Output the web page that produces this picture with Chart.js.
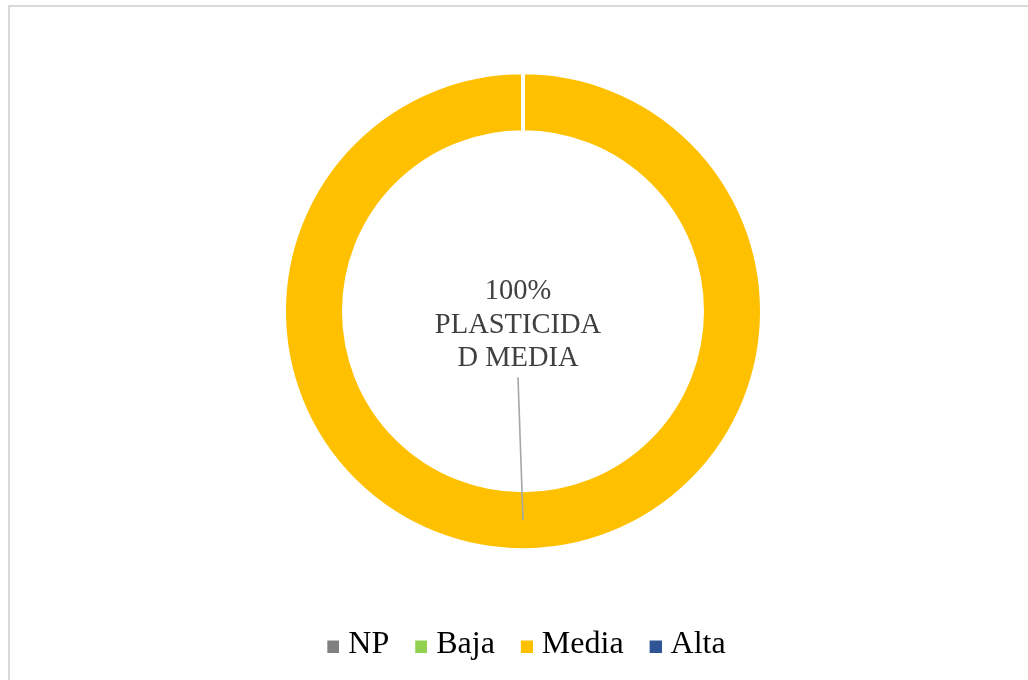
<!DOCTYPE html>
<html>
<head>
<meta charset="utf-8">
<script src="https://cdn.jsdelivr.net/npm/chart.js@4"></script>
<style>
  html, body { margin: 0; padding: 0; background: #fff; overflow: hidden; }
  #frame { position: absolute; left: 8px; top: 5px; width: 1100px; height: 760px;
           border: 2px solid #d9d9d9; box-sizing: border-box; }
  #wrap { position: absolute; left: 0; top: 0; width: 1028px; height: 680px; }
</style>
</head>
<body>
<div id="frame"></div>
<div id="wrap"><canvas id="c"></canvas></div>
<script>
// Plasticity classes and their share of samples (%)
const categories = ['NP', 'Baja', 'Media', 'Alta'];
const values = [0, 0, 100, 0];
const colors = ['#808080', '#92D050', '#FFC000', '#2F5597'];
// Wrapped category text shown in the data callout
const calloutLines = ['PLASTICIDA', 'D MEDIA'];

// Legend swatch: a 12px square sitting at the right end of a wider image,
// so the gap between swatch and text stays tight.
function makeSwatch(color) {
  const c = document.createElement('canvas');
  c.width = 26; c.height = 16;
  const g = c.getContext('2d');
  g.fillStyle = color;
  g.fillRect(14, 4, 12, 12);
  return c;
}
const swatches = colors.map(makeSwatch);

const calloutPlugin = {
  id: 'callout',
  afterDatasetsDraw(chart) {
    const meta = chart.getDatasetMeta(0);
    const data = chart.data.datasets[0].data;
    const total = data.reduce((a, b) => a + b, 0);
    const ctx = chart.ctx;
    meta.data.forEach((arc, i) => {
      if (!data[i]) return;
      const anchor = arc.tooltipPosition();
      const tx = arc.x - 5;
      const ty = arc.y;
      ctx.save();
      ctx.strokeStyle = '#a6a6a6';
      ctx.lineWidth = 1.6;
      ctx.beginPath();
      ctx.moveTo(tx, ty + 66);
      ctx.lineTo(anchor.x, anchor.y);
      ctx.stroke();
      ctx.font = '28.5px "Liberation Serif", "Times New Roman", serif';
      ctx.fillStyle = '#404040';
      ctx.textAlign = 'center';
      ctx.textBaseline = 'alphabetic';
      const lines = [Math.round(data[i] / total * 100) + '%', ...calloutLines];
      lines.forEach((t, k) => ctx.fillText(t, tx, ty - 12 + k * 33.5));
      ctx.restore();
    });
  }
};

new Chart(document.getElementById('c'), {
  type: 'doughnut',
  data: {
    labels: categories,
    datasets: [{
      data: values,
      backgroundColor: colors,
      borderColor: '#ffffff',
      borderWidth: 4,
      radius: 239,
      cutout: '74.9%'
    }]
  },
  options: {
    responsive: true,
    maintainAspectRatio: false,
    animation: false,
    events: [],
    layout: { padding: { left: 18, right: 0, top: 13, bottom: 9.5 } },
    plugins: {
      tooltip: { enabled: false },
      legend: {
        position: 'bottom',
        labels: {
          usePointStyle: true,
          pointStyleWidth: 12,
          padding: 19,
          color: '#000000',
          font: { family: '"Liberation Serif", "Times New Roman", serif', size: 32 },
          generateLabels(chart) {
            const items = Chart.overrides.doughnut.plugins.legend.labels.generateLabels(chart);
            items.forEach((it, i) => {
              it.pointStyle = swatches[i];
              it.fontColor = '#000000';
            });
            return items;
          }
        }
      }
    }
  },
  plugins: [calloutPlugin]
});
</script>
</body>
</html>
